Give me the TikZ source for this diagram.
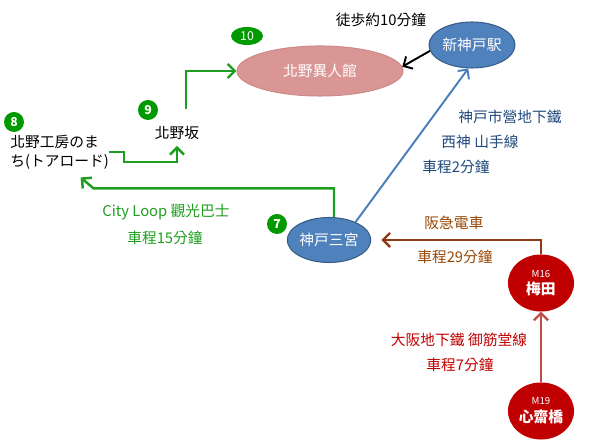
\documentclass[tikz,border=0pt]{standalone}
\usepackage{fontspec}
\setmainfont{Noto Sans CJK TC}
\usetikzlibrary{shapes.geometric,positioning,calc,arrows.meta}

\definecolor{badgegreen}{HTML}{009900}
\definecolor{greenline}{HTML}{1E9E1E}
\definecolor{ijinpink}{HTML}{D99694}
\definecolor{ijinedge}{HTML}{CC8A88}
\definecolor{kobeblue}{HTML}{4F81BD}
\definecolor{kobeedge}{HTML}{385D8A}
\definecolor{blueline}{HTML}{4A7EBB}
\definecolor{bluetext}{HTML}{1F497D}
\definecolor{metrored}{HTML}{C00000}
\definecolor{redline}{HTML}{BE4B48}
\definecolor{brownline}{HTML}{8E3A14}
\definecolor{browntext}{HTML}{984806}

\begin{document}
\begin{tikzpicture}[x=0.02cm, y=-0.02cm,
  font=\fontsize{8.4}{10}\selectfont,
  spot/.style={ellipse, draw, line width=0.6pt, inner sep=0pt, text=white},
  badge/.style={circle, fill=badgegreen, inner sep=0pt, minimum size=0.4cm, text=white, font=\fontsize{7}{8}\selectfont\bfseries},
  route/.style={line width=1.4pt, -{Straight Barb[length=4pt,width=8pt]}},
  station/.style={spot, fill=metrored, draw=metrored, minimum width=1.3cm, minimum height=1.12cm, align=center, font=\fontsize{8.4}{10}\selectfont\bfseries}
]
  \useasboundingbox (0,0) rectangle (600,448);

  % Kitano area
  \node[spot, fill=ijinpink, draw=ijinedge, minimum width=3.32cm, minimum height=1.0cm] (ijinkan) at (320,71) {北野異人館};
  \node[ellipse, fill=badgegreen, inner sep=0pt, minimum width=0.64cm, minimum height=0.36cm, text=white, font=\fontsize{7}{8}\selectfont] (b10) at (247,36) {10};
  \node[anchor=west, align=left, inner sep=0pt, font=\fontsize{8.4}{10.8}\selectfont] (kobo) at (10,152) {北野工房のま\\ち(トアロード)};
  \node[badge] (b8) at (14,122) {8};
  \node (kitanozaka) at (177,133) {北野坂};
  \node[badge] (b9) at (148,110) {9};

  % Kobe stations
  \node[spot, fill=kobeblue, draw=kobeedge, minimum width=1.72cm, minimum height=0.92cm] (shinkobe) at (472,45) {新神戸駅};
  \node (walk) at (381,20) {徒歩約10分鐘};
  \node[spot, fill=kobeblue, draw=kobeedge, minimum width=1.56cm, minimum height=0.9cm] (sannomiya) at (329,240) {神戸三宮};
  \node[badge] (b7) at (277,224) {7};

  % Osaka stations
  \node[station] (umeda) at (541,283) {{\fontsize{5.5}{6}\selectfont\mdseries M16}\\梅田};
  \node[station] (shinsaibashi) at (541,411) {{\fontsize{5.5}{6}\selectfont\mdseries M19}\\心齋橋};

  % routes
  \draw[route, greenline] (kobo.east) -- ++(15,0) -- ++(0,10) -| (kitanozaka.south);
  \draw[route, greenline] ([xshift=0.18cm,yshift=0.22cm]kitanozaka.north) |- (ijinkan.west);
  \draw[route, greenline] ([xshift=0.1cm]sannomiya.north) |- ($(kobo.south)+(34,19)$) -- ($(kobo.south)+(21,8)$);
  \draw[route, black, line width=1.1pt] (shinkobe.188) -- (ijinkan.3);
  \draw[route, blueline, line width=1.1pt] (sannomiya.34) -- (shinkobe.261);
  \draw[route, brownline, shorten >=0.2cm] (umeda.north) |- (sannomiya.east);
  \draw[route, redline] (shinsaibashi.north) -- (umeda.south);

  % route labels
  \node[text=greenline] (loopname) at (166,212) {City Loop 觀光巴士};
  \node[text=greenline] (looptime) at (165,238) {車程15分鐘};
  \node[text=bluetext] (subname) at (510,117) {神戸市營地下鐵};
  \node[text=bluetext] (subline) at (480,142) {西神 山手線};
  \node[text=bluetext] (subtime) at (456,167) {車程2分鐘};
  \node[text=browntext] (hankyuname) at (454,223) {阪急電車};
  \node[text=browntext] (hankyutime) at (455,257) {車程29分鐘};
  \node[text=metrored] (osakaname) at (459,340) {大阪地下鐵 御筋堂線};
  \node[text=metrored] (osakatime) at (460,365) {車程7分鐘};
\end{tikzpicture}
\end{document}
